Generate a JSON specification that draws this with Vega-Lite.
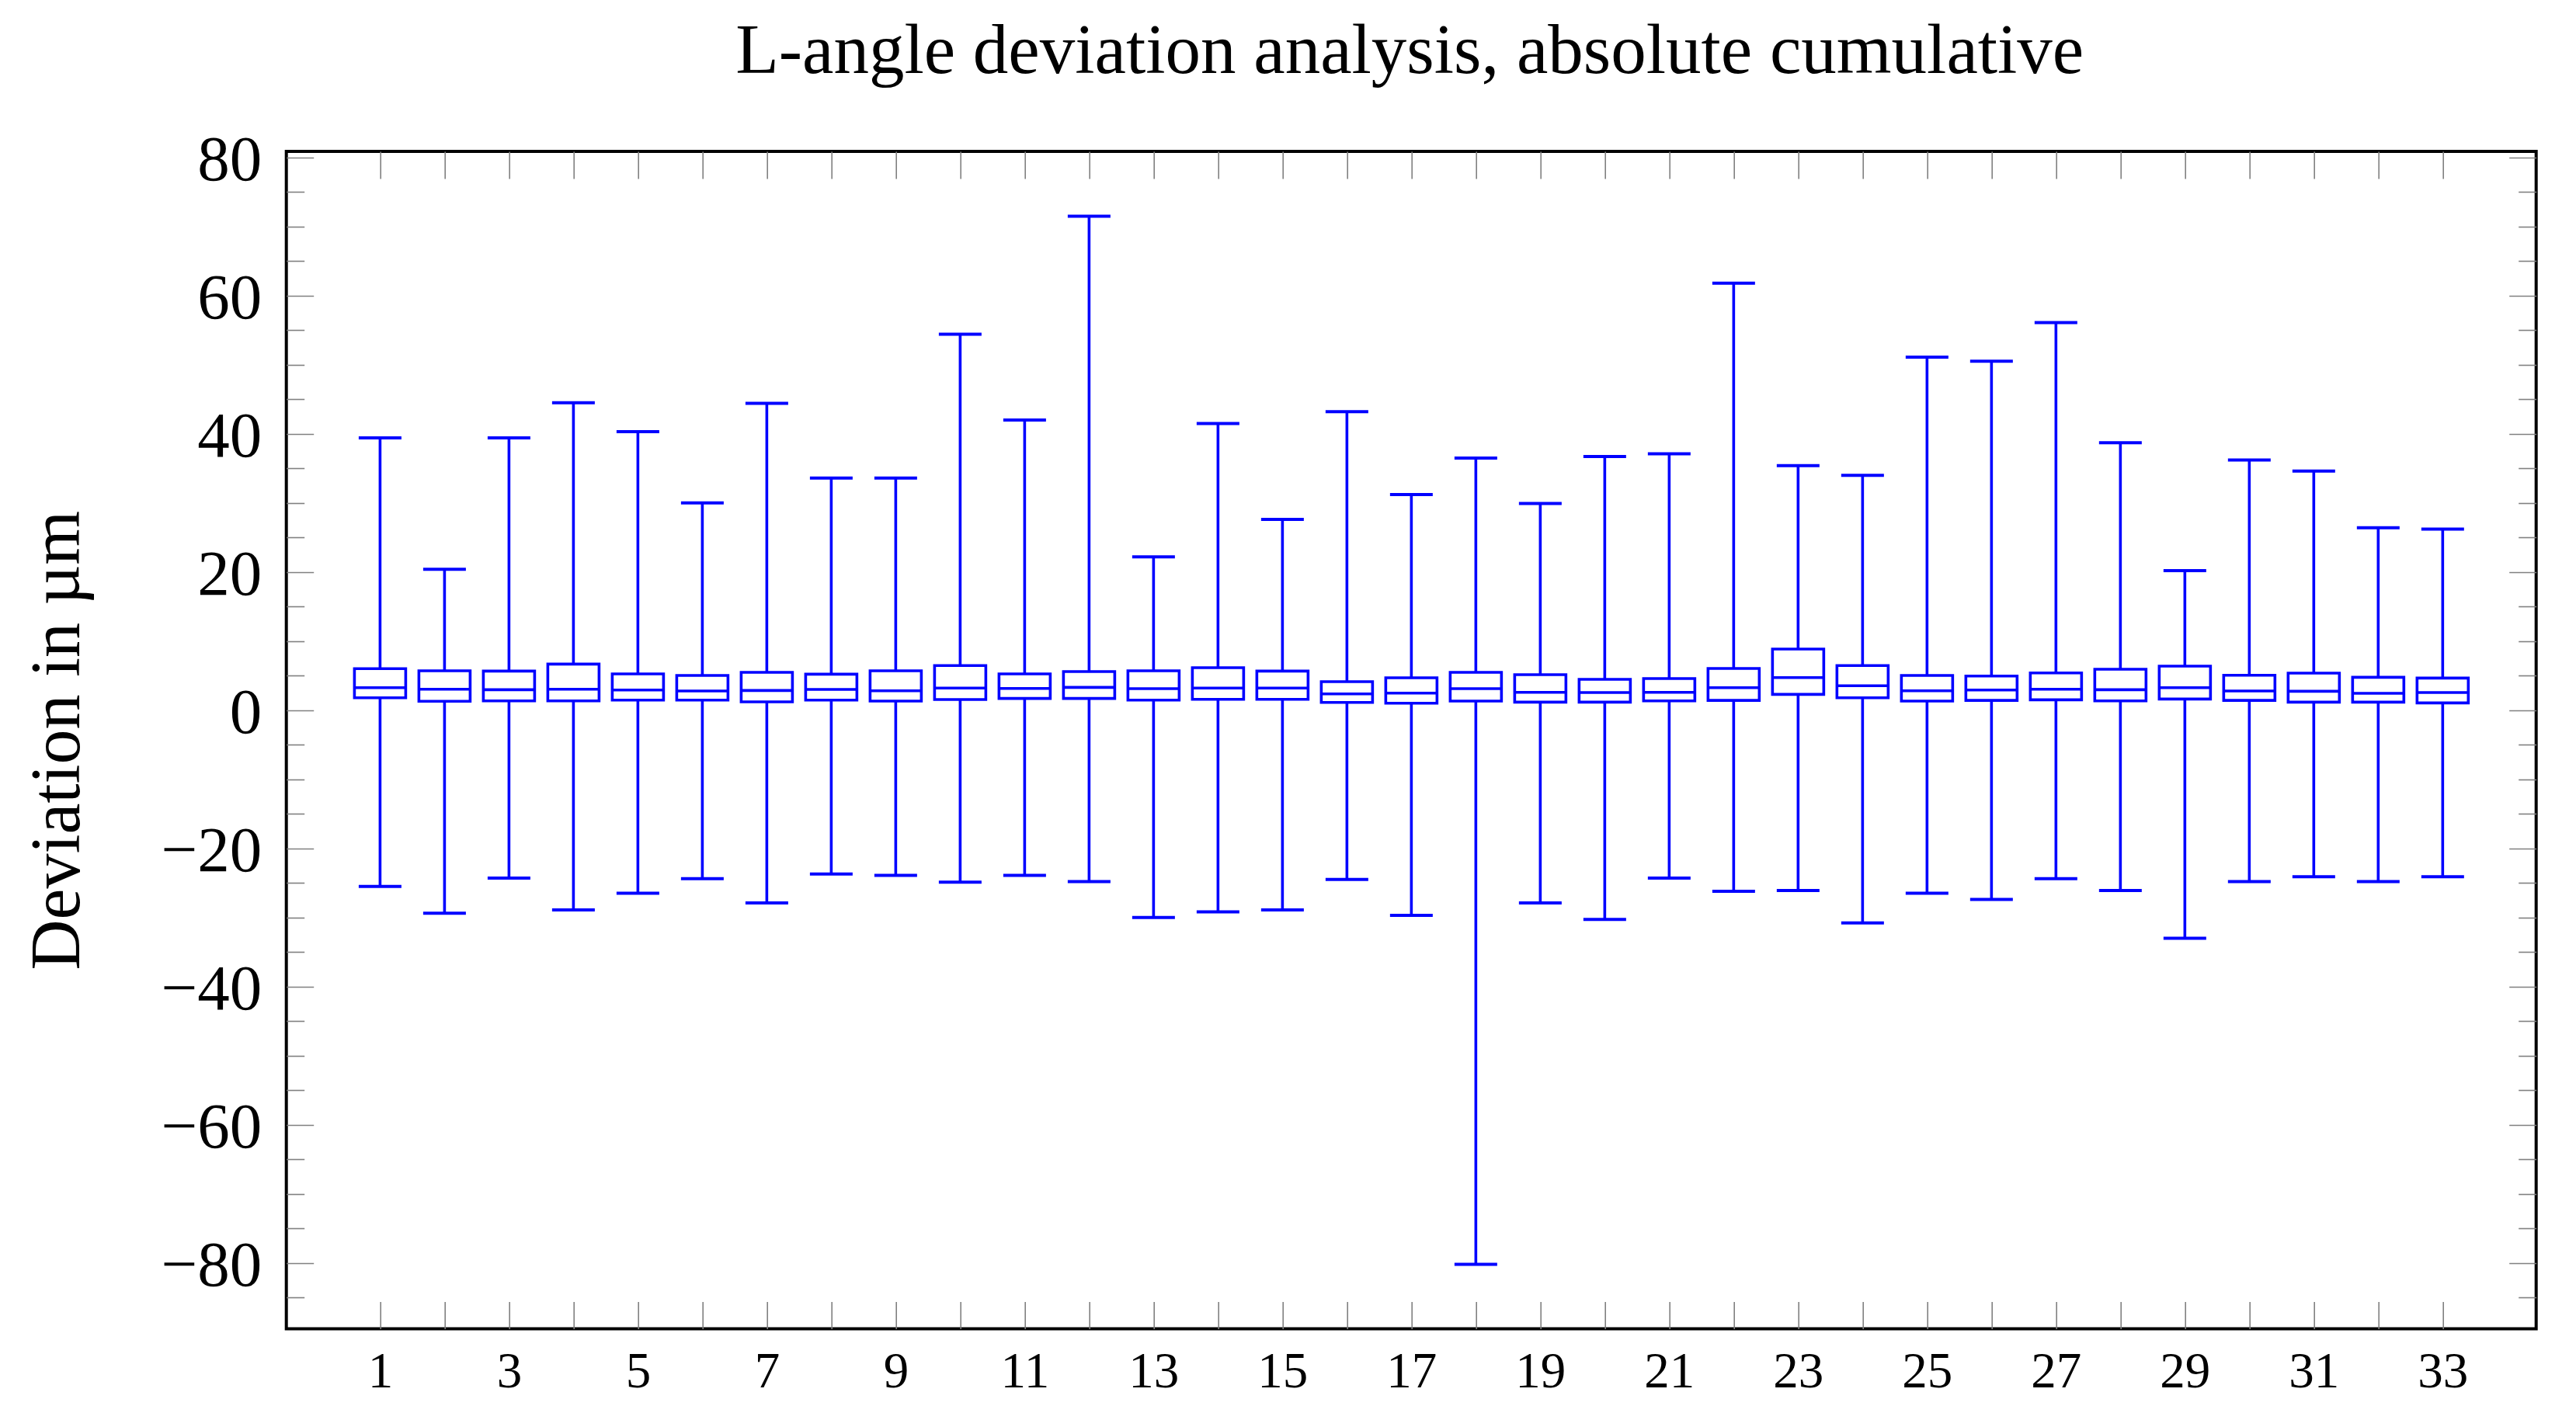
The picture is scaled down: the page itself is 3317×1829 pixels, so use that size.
{
  "$schema": "https://vega.github.io/schema/vega-lite/v6.json",
  "autosize": "none",
  "width": 2897,
  "height": 1516.5,
  "padding": {"left": 368.7, "top": 195, "right": 51.3, "bottom": 117.5},
  "background": "white",
  "config": {
    "font": "Liberation Serif",
    "view": {"stroke": "black", "strokeWidth": 4},
    "axis": {"domain": false, "grid": false, "tickColor": "#808080", "tickWidth": 1.6, "labelColor": "black", "labelFont": "Liberation Serif", "titleColor": "black"}
  },
  "data": {"values": [
    {"i": 1, "lo": -25.5, "q1": 1.8, "med": 3.26, "q3": 6.0, "hi": 39.4},
    {"i": 2, "lo": -29.4, "q1": 1.28, "med": 3.03, "q3": 5.7, "hi": 20.4},
    {"i": 3, "lo": -24.3, "q1": 1.35, "med": 2.96, "q3": 5.66, "hi": 39.4},
    {"i": 4, "lo": -28.9, "q1": 1.35, "med": 3.03, "q3": 6.67, "hi": 44.5},
    {"i": 5, "lo": -26.5, "q1": 1.46, "med": 2.92, "q3": 5.25, "hi": 40.3},
    {"i": 6, "lo": -24.4, "q1": 1.46, "med": 2.78, "q3": 5.02, "hi": 30.0},
    {"i": 7, "lo": -27.9, "q1": 1.2, "med": 2.85, "q3": 5.47, "hi": 44.4},
    {"i": 8, "lo": -23.7, "q1": 1.46, "med": 3.0, "q3": 5.21, "hi": 33.6},
    {"i": 9, "lo": -23.9, "q1": 1.31, "med": 2.81, "q3": 5.7, "hi": 33.6},
    {"i": 10, "lo": -24.9, "q1": 1.54, "med": 3.19, "q3": 6.45, "hi": 54.4},
    {"i": 11, "lo": -23.9, "q1": 1.69, "med": 3.15, "q3": 5.25, "hi": 42.0},
    {"i": 12, "lo": -24.8, "q1": 1.69, "med": 3.3, "q3": 5.58, "hi": 71.5},
    {"i": 13, "lo": -30.0, "q1": 1.46, "med": 3.11, "q3": 5.7, "hi": 22.2},
    {"i": 14, "lo": -29.2, "q1": 1.57, "med": 3.19, "q3": 6.15, "hi": 41.5},
    {"i": 15, "lo": -28.9, "q1": 1.57, "med": 3.19, "q3": 5.66, "hi": 27.6},
    {"i": 16, "lo": -24.5, "q1": 1.12, "med": 2.36, "q3": 4.12, "hi": 43.2},
    {"i": 17, "lo": -29.7, "q1": 1.01, "med": 2.47, "q3": 4.69, "hi": 31.2},
    {"i": 18, "lo": -80.2, "q1": 1.31, "med": 3.11, "q3": 5.47, "hi": 36.5},
    {"i": 19, "lo": -27.9, "q1": 1.16, "med": 2.58, "q3": 5.13, "hi": 29.9},
    {"i": 20, "lo": -30.3, "q1": 1.16, "med": 2.55, "q3": 4.46, "hi": 36.7},
    {"i": 21, "lo": -24.3, "q1": 1.35, "med": 2.58, "q3": 4.57, "hi": 37.1},
    {"i": 22, "lo": -26.2, "q1": 1.42, "med": 3.26, "q3": 6.03, "hi": 61.8},
    {"i": 23, "lo": -26.1, "q1": 2.29, "med": 4.72, "q3": 8.84, "hi": 35.4},
    {"i": 24, "lo": -30.8, "q1": 1.8, "med": 3.53, "q3": 6.45, "hi": 34.0},
    {"i": 25, "lo": -26.5, "q1": 1.31, "med": 2.81, "q3": 5.02, "hi": 51.1},
    {"i": 26, "lo": -27.4, "q1": 1.42, "med": 2.92, "q3": 4.94, "hi": 50.5},
    {"i": 27, "lo": -24.4, "q1": 1.5, "med": 3.03, "q3": 5.39, "hi": 56.1},
    {"i": 28, "lo": -26.1, "q1": 1.35, "med": 2.96, "q3": 5.92, "hi": 38.7},
    {"i": 29, "lo": -33.0, "q1": 1.61, "med": 3.26, "q3": 6.37, "hi": 20.2},
    {"i": 30, "lo": -24.8, "q1": 1.42, "med": 2.78, "q3": 5.06, "hi": 36.2},
    {"i": 31, "lo": -24.1, "q1": 1.16, "med": 2.73, "q3": 5.36, "hi": 34.6},
    {"i": 32, "lo": -24.8, "q1": 1.16, "med": 2.44, "q3": 4.76, "hi": 26.4},
    {"i": 33, "lo": -24.1, "q1": 1.05, "med": 2.55, "q3": 4.65, "hi": 26.2}
  ]},
  "resolve": {"axis": {"x": "independent", "y": "independent"}},
  "layer": [
    {
      "mark": {"type": "rule", "color": "#0000ff", "strokeWidth": 3.6},
      "encoding": {
        "x": {"field": "i", "type": "quantitative", "scale": {"domain": [-0.394, 34.39], "nice": false, "zero": false},
              "axis": {"orient": "bottom", "title": null, "values": [1,3,5,7,9,11,13,15,17,19,21,23,25,27,29,31,33], "ticks": false, "labelFontSize": 65, "labelPadding": 75, "labelBaseline": "alphabetic", "labelFlush": false, "labelOverlap": false}},
        "y": {"field": "lo", "type": "quantitative", "scale": {"domain": [-89.53, 80.87], "nice": false, "zero": false},
              "axis": {"orient": "left", "values": [-80,-60,-40,-20,0,20,40,60,80], "ticks": false, "labelFontSize": 83, "labelPadding": 32, "labelBaseline": "alphabetic", "labelOffset": 29, "labelFlush": false, "labelOverlap": false,
                       "title": "Deviation in µm", "titleFont": "Liberation Serif", "titleFontSize": 90, "titleFontWeight": "normal", "titleAngle": 270, "titleX": -267, "titleY": 758, "titleAlign": "center", "titleBaseline": "alphabetic"}},
        "y2": {"field": "hi"}
      }
    },
    {
      "mark": {"type": "bar", "fill": "white", "stroke": "#0000ff", "strokeWidth": 3.6, "width": 66},
      "encoding": {
        "x": {"field": "i", "type": "quantitative", "scale": {"domain": [-0.394, 34.39], "nice": false, "zero": false},
              "axis": {"orient": "bottom", "title": null, "values": [1,2,3,4,5,6,7,8,9,10,11,12,13,14,15,16,17,18,19,20,21,22,23,24,25,26,27,28,29,30,31,32,33], "labels": false, "tickSize": -35}},
        "y": {"field": "q1", "type": "quantitative", "scale": {"domain": [-89.53, 80.87], "nice": false, "zero": false},
              "axis": {"orient": "left", "title": null, "values": [-80,-60,-40,-20,0,20,40,60,80], "labels": false, "tickSize": -35}},
        "y2": {"field": "q3"}
      }
    },
    {
      "mark": {"type": "tick", "orient": "horizontal", "color": "#0000ff", "size": 66, "thickness": 3.6, "opacity": 1},
      "encoding": {
        "x": {"field": "i", "type": "quantitative", "scale": {"domain": [-0.394, 34.39], "nice": false, "zero": false},
              "axis": {"orient": "top", "values": [1,2,3,4,5,6,7,8,9,10,11,12,13,14,15,16,17,18,19,20,21,22,23,24,25,26,27,28,29,30,31,32,33], "labels": false, "tickSize": -35,
                       "title": "L-angle deviation analysis, absolute cumulative", "titleFont": "Liberation Serif", "titleFontSize": 91, "titleFontWeight": "normal", "titleX": 1446, "titleY": -102, "titleAlign": "center", "titleBaseline": "alphabetic", "titleAngle": 0}},
        "y": {"field": "med", "type": "quantitative", "scale": {"domain": [-89.53, 80.87], "nice": false, "zero": false},
              "axis": {"orient": "left", "title": null, "values": [-85,-75,-70,-65,-55,-50,-45,-35,-30,-25,-15,-10,-5,5,10,15,25,30,35,45,50,55,65,70,75], "labels": false, "tickSize": -23}}
      }
    },
    {
      "mark": {"type": "tick", "orient": "horizontal", "color": "#0000ff", "size": 55, "thickness": 4, "opacity": 1},
      "encoding": {
        "x": {"field": "i", "type": "quantitative", "scale": {"domain": [-0.394, 34.39], "nice": false, "zero": false}, "axis": null},
        "y": {"field": "hi", "type": "quantitative", "scale": {"domain": [-89.53, 80.87], "nice": false, "zero": false},
              "axis": {"orient": "right", "title": null, "values": [-80,-60,-40,-20,0,20,40,60,80], "labels": false, "tickSize": -35}}
      }
    },
    {
      "mark": {"type": "tick", "orient": "horizontal", "color": "#0000ff", "size": 55, "thickness": 4, "opacity": 1},
      "encoding": {
        "x": {"field": "i", "type": "quantitative", "scale": {"domain": [-0.394, 34.39], "nice": false, "zero": false}, "axis": null},
        "y": {"field": "lo", "type": "quantitative", "scale": {"domain": [-89.53, 80.87], "nice": false, "zero": false},
              "axis": {"orient": "right", "title": null, "values": [-85,-75,-70,-65,-55,-50,-45,-35,-30,-25,-15,-10,-5,5,10,15,25,30,35,45,50,55,65,70,75], "labels": false, "tickSize": -23}}
      }
    }
  ]
}
